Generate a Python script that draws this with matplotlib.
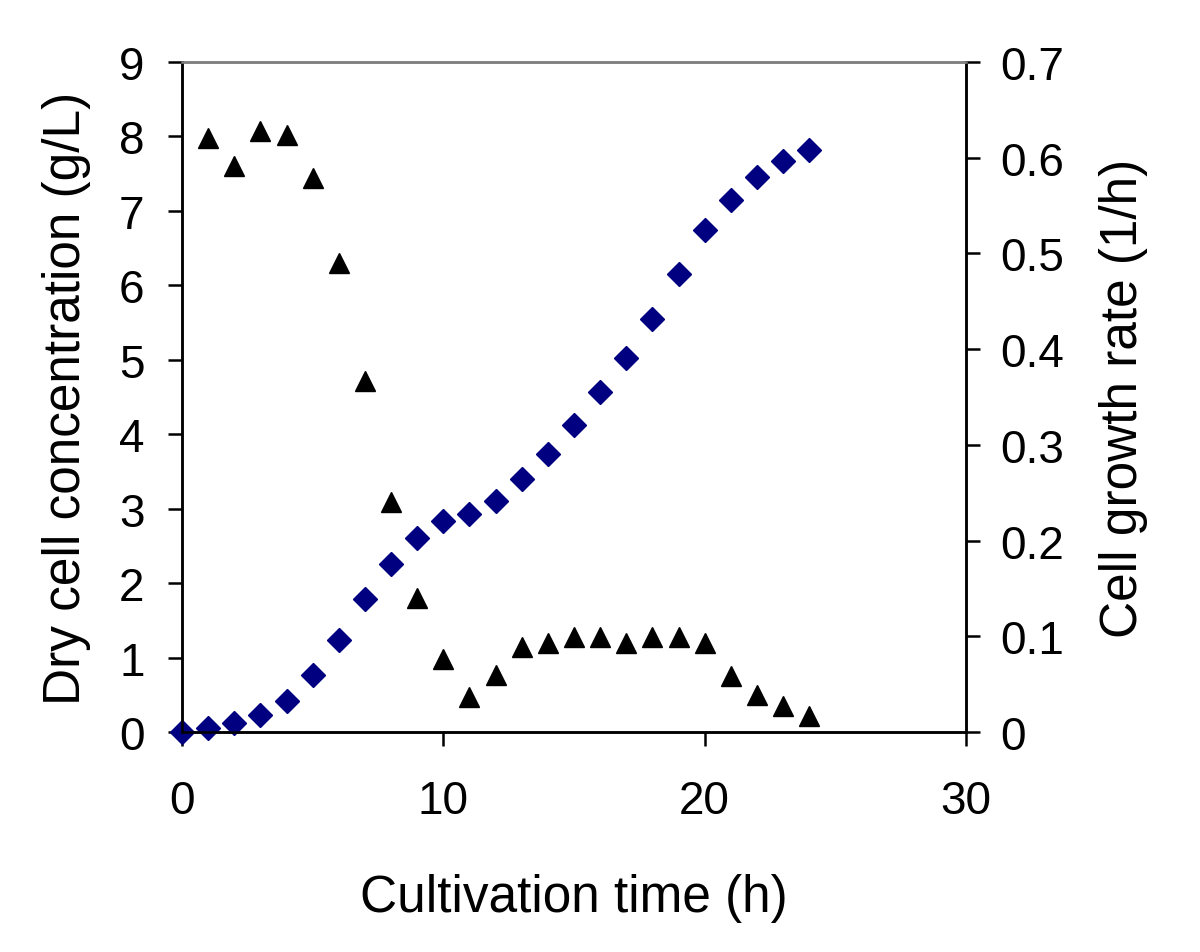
import matplotlib
matplotlib.use("Agg")
import matplotlib.pyplot as plt

time_h = list(range(0, 25))
dry_cell = [0.0, 0.05, 0.12, 0.23, 0.41, 0.76, 1.24, 1.79, 2.26, 2.61, 2.83, 2.93, 3.10,
            3.40, 3.74, 4.12, 4.57, 5.03, 5.55, 6.15, 6.74, 7.15, 7.45, 7.67, 7.82]
rate_time = list(range(1, 25))
growth_rate = [0.621, 0.591, 0.628, 0.624, 0.579, 0.490, 0.367, 0.240, 0.140, 0.076, 0.037,
               0.060, 0.089, 0.093, 0.099, 0.099, 0.093, 0.099, 0.099, 0.093, 0.058, 0.039,
               0.027, 0.017]
x_ticks = [0, 10, 20, 30]
left_ticks = list(range(0, 10))
right_ticks = [0, 0.1, 0.2, 0.3, 0.4, 0.5, 0.6, 0.7]
right_tick_labels = ['0', '0.1', '0.2', '0.3', '0.4', '0.5', '0.6', '0.7']

plt.rcParams['font.family'] = ['Liberation Sans', 'DejaVu Sans']
tick_fs = 33
label_fs = 37

fig = plt.figure(figsize=(12, 9.53), dpi=100)
ax = fig.add_axes([0.1517, 0.2309, 0.805 - 0.1517, 0.9339 - 0.2309])
ax2 = ax.twinx()

ax.plot(time_h, dry_cell, linestyle='none', marker='D', markersize=12,
        color='#000080', zorder=3, clip_on=False)
ax2.plot(rate_time, growth_rate, linestyle='none', marker='^', markersize=15,
         color='black', zorder=3)

ax.set_xlim(0, 30)
ax.set_ylim(0, 9)
ax2.set_ylim(0, 0.7)
ax.set_xticks(x_ticks)
ax.set_yticks(left_ticks)
ax2.set_yticks(right_ticks)
ax2.set_yticklabels(right_tick_labels)

for a in (ax, ax2):
    for s in ('left', 'right', 'bottom'):
        a.spines[s].set_linewidth(1.8)
        a.spines[s].set_color('black')
    a.spines['top'].set_color('#808080')
    a.spines['top'].set_linewidth(1.8)

ax.tick_params(axis='x', direction='out', length=10, width=1.8, labelsize=tick_fs, pad=24)
ax.tick_params(axis='y', direction='out', length=10, width=1.8, labelsize=tick_fs, pad=17)
ax2.tick_params(axis='y', direction='out', length=10, width=1.8, labelsize=tick_fs, pad=15)

ax.set_xlabel('Cultivation time (h)', fontsize=label_fs, labelpad=36)
ax.set_ylabel('Dry cell concentration (g/L)', fontsize=label_fs, labelpad=20)
ax2.set_ylabel('Cell growth rate (1/h)', fontsize=label_fs, labelpad=25, rotation=90)

fig.savefig('out.png', dpi=100)
